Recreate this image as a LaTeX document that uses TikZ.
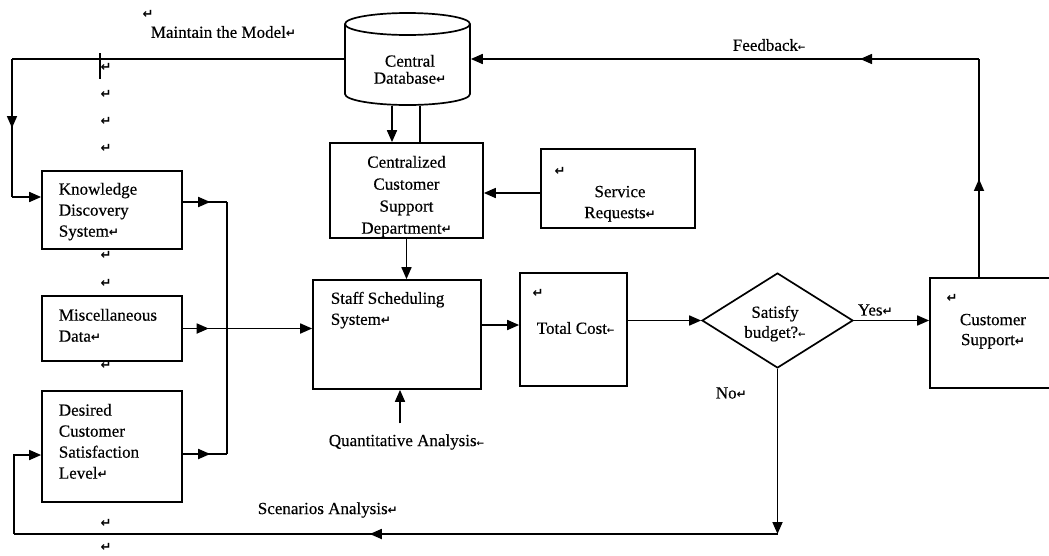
\documentclass[tikz,border=0pt]{standalone}
\usepackage{fontspec}
\setmainfont{Liberation Serif}[FakeBold=0.4]
\newfontfamily\symfont{DejaVu Sans Bold}
\usetikzlibrary{arrows.meta,shapes.geometric,decorations.markings}
% paragraph and line-break marks
\newcommand{\pmark}{{\symfont\fontsize{12}{12}\selectfont ↵}}
\newcommand{\lmark}{{\symfont\fontsize{9}{9}\selectfont ←}}
\begin{document}
\begin{tikzpicture}[x=1pt,y=-1pt,line width=1.7pt,
  tip/.tip={Triangle[length=12pt,width=10pt]},
  arr/.style={-tip},
  midarrow/.style={postaction={decorate},decoration={markings,mark=at position #1 with {\arrow{tip}}}},
  box/.style={draw,fill=white,rectangle,inner sep=0pt},
  txt/.style={inner sep=0pt,font=\fontsize{17}{21}\selectfont},
  rmark/.style={inner sep=0pt,font=\symfont\fontsize{13}{13}\selectfont}]
\useasboundingbox (0,0) rectangle (1049,555);

% stray paragraph marks down the left column
\foreach \yy [count=\i] in {67,94,121,148,255,283,365,396,523,547}
  \node[rmark] (r\i) at (106,\yy) {↵};
\node[rmark] (rtop) at (148,14) {↵};

% boxes
\node[box,minimum width=140pt,minimum height=78pt] (kd) at (112,210) {};
\node[box,minimum width=140pt,minimum height=65pt] (misc) at (112,328.5) {};
\node[box,minimum width=140pt,minimum height=111pt] (des) at (112,446.5) {};
\node[box,minimum width=153pt,minimum height=95pt] (ccs) at (406.5,190.5) {};
\node[box,minimum width=154pt,minimum height=79pt] (sr) at (618,188.5) {};
\node[box,minimum width=168pt,minimum height=109pt] (staff) at (397,334.5) {};
\node[box,minimum width=107pt,minimum height=113pt] (tc) at (573.5,329.5) {};
\node[box,minimum width=130pt,minimum height=110pt] (cs) at (995,333) {};
\node[diamond,draw,fill=white,inner sep=0pt,aspect=1.59,minimum width=151pt,minimum height=95pt] (dia) at (777.5,320.5) {};

% central database cylinder
\node[inner sep=0pt,minimum width=125pt,minimum height=92pt] (db) at (407.5,59) {};
\draw[fill=white] (345,24) -- (345,94)
  arc[start angle=180,end angle=360,x radius=62.5pt,y radius=11pt] -- (470,24)
  arc[start angle=0,end angle=180,x radius=62.5pt,y radius=11pt] -- cycle;
\draw (345,24) arc[start angle=180,end angle=360,x radius=62.5pt,y radius=11pt];

% texts inside shapes
\node[txt,align=center,anchor=north,font=\fontsize{17}{17}\selectfont] (dbt) at (410,54) {Central\\Database\pmark};
\node[txt,align=left,anchor=north west] (kdt) at (58,182) {Knowledge\\Discovery\\System\pmark};
\node[txt,align=left,anchor=north west] (misct) at (58,308) {Miscellaneous\\Data\pmark};
\node[txt,align=left,anchor=north west] (dest) at (58,403) {Desired\\Customer\\Satisfaction\\Level\pmark};
\node[txt,align=center,anchor=north,font=\fontsize{17}{22}\selectfont] (ccst) at (406.5,155) {Centralized\\Customer\\Support\\Department\pmark};
\node[rmark] (srm) at (560,171) {↵};
\node[txt,align=center,anchor=north] (srt) at (620,185) {Service\\Requests\pmark};
\node[txt,align=left,anchor=north west] (stafft) at (330,291) {Staff Scheduling\\System\pmark};
\node[rmark] (tcm) at (538,293) {↵};
\node[txt,anchor=west] (tct) at (536,328) {Total Cost\lmark};
\node[txt,align=center,anchor=north,font=\fontsize{17}{20}\selectfont] (diat) at (775,305) {Satisfy\\budget?\lmark};
\node[rmark] (csm) at (952,298) {↵};
\node[txt,align=center,anchor=north,font=\fontsize{17}{20}\selectfont] (cst) at (993,313) {Customer\\Support\pmark};

% free labels
\node[txt,anchor=west] (maint) at (150,32) {Maintain the Model\pmark};
\node[txt,anchor=west] (fbt) at (732,45) {Feedback\lmark};
\node[txt,anchor=west] (yest) at (857,310) {Yes\pmark};
\node[txt,anchor=west] (not) at (715,393) {No\pmark};
\node[txt,anchor=west] (scen) at (257,510) {Scenarios Analysis\pmark};
\node[txt,anchor=west] (qa) at (328,442) {Quantitative Analysis\lmark};

% cursor bar on the model line
\draw[line width=2.8pt] (100,53) -- (100,79);

% maintain-the-model loop
\coordinate (m1) at (12,59);
\coordinate (m2) at (12,197);
\draw (db.west) -- (m1);
\draw[midarrow=0.5] (m1) -- (m2);
\draw[arr] (m2) -- (m2 -| kd.west);

% inputs gathered into the scheduling system
\coordinate (j1) at (227,202);
\coordinate (j2) at (227,454);
\draw[midarrow=0.62] (j1 -| kd.east) -- (j1);
\draw (j1) -- (j2);
\draw[midarrow=0.62] (j2 -| des.east) -- (j2);
\draw[arr,midarrow=0.2] (misc.east) -- (misc.east -| staff.west);

% database and support department
\draw[arr] ([xshift=-15.5pt]db.south) -- ([xshift=-15.5pt]db.south |- ccs.north);
\draw ([xshift=12.5pt]db.south) -- ([xshift=12.5pt]db.south |- ccs.north);
\draw[arr] ([yshift=-4.5pt]sr.west) -- ([yshift=-4.5pt]sr.west -| ccs.east);
\draw[arr] (ccs.south) -- (ccs.south |- staff.north);

% scheduling, cost and budget check
\draw[arr] ([yshift=10pt]qa.north -| 400,0) -- (staff.south -| 400,0);
\draw[arr] ([yshift=9.5pt]staff.east) -- ([yshift=9.5pt]staff.east -| tc.west);
\draw[arr] (tc.east |- dia.west) -- (dia.west);
\draw[arr] (dia.east) -- (dia.east -| cs.west);

% feedback to the database
\coordinate (f1) at (979,59);
\draw[midarrow=0.45] (f1 |- cs.north) -- (f1);
\draw[arr,midarrow=0.234] (f1) -- (db.east);

% scenarios loop
\coordinate (n1) at (777.5,534);
\coordinate (n2) at (14,534);
\coordinate (n3) at (14,455);
\draw[arr] (dia.south) -- (n1);
\draw[midarrow=0.534] (n1) -- (n2);
\draw[arr] (n2) -- (n3) -- (n3 -| des.west);
\end{tikzpicture}
\end{document}
